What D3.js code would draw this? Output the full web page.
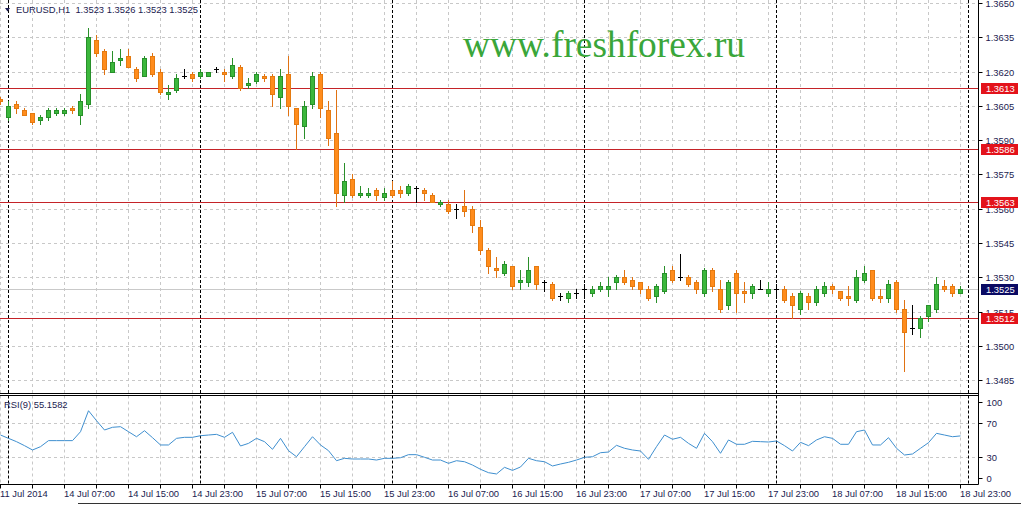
<!DOCTYPE html>
<html><head><meta charset="utf-8">
<script src="https://cdn.jsdelivr.net/npm/d3@7"></script>
<style>
html,body{margin:0;padding:0;background:#fff;}
svg{display:block;font-family:"Liberation Sans",Arial,sans-serif;}
</style></head><body>
<svg id="c" width="1021" height="505"></svg>
<script>
// ---------- DATA ----------
const open  = [1.3608,1.3600,1.3606,1.3603,1.3602,1.3599,1.3600,1.3602,1.3602,1.3604,
1.3601,1.3606,1.3634,1.3629,1.3620,1.3625,1.3627,1.3621,1.3618,1.3627,
1.3620,1.3610,1.3612,1.3618,1.3619,1.3618,1.3618,1.3621,1.3620,1.3618,
1.3622,1.3614,1.3616,1.3618,1.3618,1.3609,1.3619,1.3604,1.3596,1.3606,
1.3619,1.3603,1.3593,1.3566,1.3573,1.3566,1.3566,1.3568,1.3565,1.3568,
1.3568,1.3567,1.3569,1.3568,1.3566,1.3562,1.3562,1.3560,1.3561,1.3560,
1.3552,1.3542,1.3534,1.3532,1.3535,1.3528,1.3528,1.3535,1.3528,1.3527,
1.3522,1.3521,1.3523,1.3525,1.3523,1.3525,1.3525,1.3528,1.3530,1.3529,
1.3528,1.3525,1.3522,1.3524,1.3533,1.3530,1.3530,1.3528,1.3523,1.3533,
1.3525,1.3518,1.3532,1.3524,1.3523,1.3525,1.3523,1.3525,1.3525,1.3522,
1.3516,1.3522,1.3519,1.3523,1.3526,1.3524,1.3522,1.3520,1.3529,1.3533,
1.3522,1.3521,1.3528,1.3516,1.3508,1.3508,1.3513,1.3516,1.3526,1.3526,
1.3523];
const high  = [1.3609,1.3607,1.3607,1.3604,1.3602,1.3601,1.3604,1.3604,1.3604,1.3605,
1.3610,1.3639,1.3636,1.3630,1.3629,1.3630,1.3630,1.3622,1.3627,1.3628,
1.3621,1.3614,1.3619,1.3621,1.3620,1.3621,1.3620,1.3622,1.3621,1.3626,
1.3623,1.3617,1.3620,1.3619,1.3619,1.3621,1.3627,1.3604,1.3607,1.3620,
1.3620,1.3607,1.3612,1.3580,1.3575,1.3570,1.3569,1.3569,1.3569,1.3572,
1.3570,1.3571,1.3570,1.3569,1.3567,1.3564,1.3564,1.3562,1.3568,1.3561,
1.3555,1.3543,1.3539,1.3537,1.3535,1.3533,1.3539,1.3535,1.3529,1.3528,
1.3523,1.3524,1.3525,1.3527,1.3526,1.3528,1.3530,1.3531,1.3533,1.3530,
1.3528,1.3526,1.3527,1.3535,1.3535,1.3540,1.3531,1.3529,1.3534,1.3534,
1.3529,1.3529,1.3533,1.3528,1.3527,1.3529,1.3528,1.3527,1.3526,1.3523,
1.3524,1.3523,1.3526,1.3528,1.3527,1.3524,1.3526,1.3533,1.3535,1.3533,
1.3525,1.3529,1.3529,1.3520,1.3518,1.3513,1.3518,1.3530,1.3529,1.3527,
1.3526];
const low   = [1.3606,1.3599,1.3602,1.3601,1.3597,1.3597,1.3599,1.3601,1.3601,1.3602,
1.3597,1.3604,1.3627,1.3619,1.3620,1.3623,1.3622,1.3616,1.3618,1.3618,
1.3610,1.3608,1.3611,1.3617,1.3616,1.3617,1.3618,1.3620,1.3616,1.3617,
1.3612,1.3613,1.3615,1.3616,1.3605,1.3604,1.3601,1.3586,1.3591,1.3604,
1.3600,1.3588,1.3561,1.3563,1.3565,1.3565,1.3565,1.3564,1.3564,1.3565,
1.3565,1.3566,1.3563,1.3564,1.3563,1.3561,1.3558,1.3556,1.3557,1.3550,
1.3540,1.3532,1.3530,1.3531,1.3525,1.3525,1.3526,1.3525,1.3524,1.3520,
1.3520,1.3519,1.3521,1.3521,1.3522,1.3524,1.3522,1.3525,1.3527,1.3525,
1.3523,1.3520,1.3519,1.3523,1.3528,1.3529,1.3526,1.3523,1.3522,1.3524,
1.3515,1.3516,1.3515,1.3519,1.3521,1.3525,1.3522,1.3521,1.3519,1.3512,
1.3514,1.3516,1.3518,1.3522,1.3523,1.3520,1.3518,1.3519,1.3528,1.3520,
1.3519,1.3519,1.3515,1.3489,1.3505,1.3504,1.3511,1.3515,1.3524,1.3522,
1.3523];
const close = [1.3607,1.3605,1.3604,1.3601,1.3598,1.3600,1.3603,1.3603,1.3603,1.3603,
1.3607,1.3635,1.3628,1.3621,1.3624,1.3626,1.3622,1.3617,1.3626,1.3619,
1.3611,1.3611,1.3617,1.3618,1.3617,1.3620,1.3620,1.3621,1.3619,1.3623,
1.3613,1.3615,1.3619,1.3617,1.3610,1.3618,1.3605,1.3597,1.3605,1.3618,
1.3604,1.3591,1.3567,1.3572,1.3566,1.3567,1.3567,1.3566,1.3567,1.3566,
1.3567,1.3570,1.3569,1.3567,1.3563,1.3563,1.3559,1.3560,1.3559,1.3553,
1.3542,1.3535,1.3533,1.3536,1.3526,1.3529,1.3533,1.3527,1.3528,1.3521,
1.3522,1.3523,1.3523,1.3525,1.3525,1.3526,1.3526,1.3530,1.3528,1.3526,
1.3525,1.3521,1.3526,1.3532,1.3529,1.3530,1.3527,1.3525,1.3533,1.3526,
1.3516,1.3528,1.3523,1.3523,1.3526,1.3525,1.3525,1.3525,1.3520,1.3518,
1.3523,1.3519,1.3525,1.3526,1.3525,1.3521,1.3521,1.3530,1.3532,1.3521,
1.3521,1.3527,1.3516,1.3506,1.3508,1.3512,1.3518,1.3527,1.3525,1.3523,
1.3525];
const rsi = [56.2,52.3,48.4,43.7,38.6,42.5,49.6,49.6,49.6,49.6,
60.1,84.8,73.1,62.1,65.3,66.0,60.1,54.2,61.3,53.1,
44.5,44.5,52.3,53.5,53.5,55.4,56.2,57.0,53.5,59.4,
43.3,46.4,52.3,48.4,39.4,52.3,37.8,30.7,42.5,54.2,
44.5,37.8,26.0,28.8,28.0,28.0,28.0,26.8,28.8,28.8,
29.5,33.1,33.1,30.0,26.8,26.8,22.9,26.0,24.8,20.9,
15.9,11.9,10.4,18.2,14.6,18.6,28.8,26.0,24.8,19.8,
22.1,24.1,26.8,30.0,30.7,35.4,36.2,44.1,40.6,38.6,
37.4,27.6,42.5,56.2,51.2,53.5,46.4,40.6,58.2,48.4,
34.7,50.4,45.3,45.3,48.8,48.4,48.0,49.2,43.7,37.4,
47.6,43.7,50.4,54.2,52.3,45.3,45.3,60.1,62.1,44.5,
44.5,53.1,40.6,32.7,33.9,40.6,47.2,58.2,56.2,54.2,
55.1582];
const levels = [1.3613,1.3586,1.3563,1.3512];
const bid = 1.3525;
const priceTicks = [1.3650,1.3635,1.3620,1.3605,1.3590,1.3575,1.3560,1.3545,1.3530,1.3515,1.3500,1.3485];
const rsiTicks = [100,70,30,0];
const rsiGrid = [70,30];
const timeLabels = ["11 Jul 2014","14 Jul 07:00","14 Jul 15:00","14 Jul 23:00","15 Jul 07:00","15 Jul 15:00","15 Jul 23:00","16 Jul 07:00","16 Jul 15:00","16 Jul 23:00","17 Jul 07:00","17 Jul 15:00","17 Jul 23:00","18 Jul 07:00","18 Jul 15:00","18 Jul 23:00"];
const dayStarts = [1,25,49,73,97,121];
const title = "EURUSD,H1  1.3523 1.3526 1.3523 1.3525";
const rsiTitle = "RSI(9) 55.1582";
const watermark = "www.freshforex.ru";

// ---------- LAYOUT ----------
const svg = d3.select("#c");
const W = 1021, right = 978.5;
const mainTop = 0, mainBot = 393.5, rsiTop = 395.5, rsiBot = 484.5;
const txt = "#1b1b50";
const FS = "9.4px";

const x = d3.scaleLinear().domain([0,120]).range([0,960]);
const y = d3.scaleLinear().domain([1.3485,1.3650]).range([380.1,3]);
const yr = d3.scaleLinear().domain([0,100]).range([482.8,397.8]);
const px = v => Math.round(v) + 0.5;

svg.append("defs").call(d=>{
  d.append("clipPath").attr("id","cm").append("rect").attr("x",0).attr("y",0).attr("width",right).attr("height",mainBot);
  d.append("clipPath").attr("id","cr").append("rect").attr("x",0).attr("y",rsiTop+0.5).attr("width",right).attr("height",rsiBot-rsiTop-1);
});

const gm = svg.append("g").attr("clip-path","url(#cm)");
const gr = svg.append("g").attr("clip-path","url(#cr)");

const idx = d3.range(open.length);
const gridIdx = d3.range(0,121,4);

// vertical grid (gray dashed)
[ [gm,mainTop,mainBot], [gr,rsiTop,rsiBot] ].forEach(([g,t,b])=>{
  g.selectAll(null).data(gridIdx).join("line")
    .attr("x1",d=>px(x(d))).attr("x2",d=>px(x(d))).attr("y1",t).attr("y2",b)
    .attr("stroke","#c8c8c8").attr("stroke-dasharray","3,3");
});
// horizontal price grid
gm.selectAll(null).data(priceTicks).join("line")
  .attr("x1",0).attr("x2",right).attr("y1",d=>px(y(d))).attr("y2",d=>px(y(d)))
  .attr("stroke","#c8c8c8").attr("stroke-dasharray","3,3");
gr.selectAll(null).data(rsiGrid).join("line")
  .attr("x1",0).attr("x2",right).attr("y1",d=>px(yr(d))).attr("y2",d=>px(yr(d)))
  .attr("stroke","#c8c8c8").attr("stroke-dasharray","3,3");
// day separators
[ [gm,mainTop,mainBot], [gr,rsiTop,rsiBot] ].forEach(([g,t,b])=>{
  g.selectAll(null).data(dayStarts).join("line")
    .attr("x1",d=>px(x(d))).attr("x2",d=>px(x(d))).attr("y1",t).attr("y2",b)
    .attr("stroke","#000").attr("stroke-dasharray","3,2");
});

// bid line
gm.append("line").attr("x1",0).attr("x2",right).attr("y1",px(y(bid))).attr("y2",px(y(bid)))
  .attr("stroke","#c9c9c9");
// level lines
gm.selectAll(null).data(levels).join("line")
  .attr("x1",0).attr("x2",right).attr("y1",d=>px(y(d))).attr("y2",d=>px(y(d)))
  .attr("stroke","#c42328").attr("stroke-width",1);

// watermark
svg.append("text").attr("x",463).attr("y",57).text(watermark)
  .attr("font-family","'Liberation Serif','Times New Roman',serif").attr("font-size","37.4px")
  .attr("fill","#3aa63a");

// candles
const col = i => close[i] > open[i] ? "up" : (close[i] < open[i] ? "dn" : "doji");
const wickCol = {up:"#2a8f2a", dn:"#e07212", doji:"#000"};
const edgeCol = {up:"#27902a", dn:"#e47a10"};
const fillCol = {up:"#3cb73c", dn:"#ff8c1c"};
const cg = gm.selectAll("g.c").data(idx).join("g").attr("class","c");
cg.append("line")
  .attr("x1",i=>px(x(i))).attr("x2",i=>px(x(i)))
  .attr("y1",i=>Math.round(y(high[i]))).attr("y2",i=>Math.round(y(low[i]))+1)
  .attr("stroke",i=>wickCol[col(i)]);
cg.filter(i=>col(i)==="doji").append("line")
  .attr("x1",i=>Math.round(x(i))-2).attr("x2",i=>Math.round(x(i))+3)
  .attr("y1",i=>px(y(open[i]))).attr("y2",i=>px(y(open[i])))
  .attr("stroke","#000");
const bodies = cg.filter(i=>col(i)!=="doji");
bodies.append("rect")
  .attr("x",i=>Math.round(x(i))-2).attr("width",5)
  .attr("y",i=>Math.round(y(Math.max(open[i],close[i]))))
  .attr("height",i=>Math.max(3,Math.round(y(Math.min(open[i],close[i])))-Math.round(y(Math.max(open[i],close[i])))+1))
  .attr("fill",i=>edgeCol[col(i)]);
bodies.append("rect")
  .attr("x",i=>Math.round(x(i))-1).attr("width",3)
  .attr("y",i=>Math.round(y(Math.max(open[i],close[i])))+1)
  .attr("height",i=>Math.max(1,Math.round(y(Math.min(open[i],close[i])))-Math.round(y(Math.max(open[i],close[i])))-1))
  .attr("fill",i=>fillCol[col(i)]);

// RSI line
gr.append("path").datum(idx)
  .attr("d",d3.line().x(i=>x(i)+0.5).y(i=>yr(rsi[i])))
  .attr("fill","none").attr("stroke","#3f8fcf").attr("stroke-width",1);

// borders
const bl = (x1,y1,x2,y2)=>svg.append("line").attr("x1",x1).attr("y1",y1).attr("x2",x2).attr("y2",y2).attr("stroke","#000");
bl(0,mainBot,right,mainBot);
bl(0,rsiTop,right,rsiTop);
bl(0,rsiBot,right,rsiBot);
bl(right,0,right,rsiBot);
svg.append("line").attr("x1",78).attr("x2",W).attr("y1",503.5).attr("y2",503.5).attr("stroke","#333");

// price axis
const pa = svg.append("g").attr("transform",`translate(${right},0)`)
  .call(d3.axisRight(y).tickValues(priceTicks).tickSize(4).tickPadding(3).tickFormat(d3.format(".4f")));
pa.select(".domain").remove();
pa.selectAll("line").attr("stroke","#000");
pa.selectAll("text").attr("font-size",FS).attr("fill",txt).attr("font-family","'Liberation Sans',Arial,sans-serif");
pa.selectAll(".tick").attr("transform",d=>`translate(0,${px(y(d))})`);

// RSI axis
const ra = svg.append("g").attr("transform",`translate(${right},0)`);
ra.selectAll(null).data(rsiTicks).join("g")
  .attr("transform",d=>`translate(0,${Math.round(Math.min(478,Math.max(402,yr(d))))+0.5})`)
  .call(g=>{
    g.append("line").attr("x2",4).attr("stroke","#000");
    g.append("text").attr("x",8).attr("dy","0.32em").text(d=>d)
      .attr("font-size",FS).attr("fill",txt);
  });

// level labels
const lab = (v,bg)=>{
  const yy = Math.round(y(v));
  svg.append("rect").attr("x",981).attr("y",yy-5).attr("width",37).attr("height",11).attr("fill",bg);
  svg.append("text").attr("x",986).attr("y",yy+0.5).attr("dy","0.34em").text(d3.format(".4f")(v))
    .attr("font-size",FS).attr("fill","#fff");
};
levels.forEach(v=>lab(v,"#e3131b"));
lab(bid,"#0a0a64");

// time axis
const ta = svg.append("g");
ta.selectAll(null).data(gridIdx).join("line")
  .attr("x1",d=>px(x(d))).attr("x2",d=>px(x(d))).attr("y1",rsiBot).attr("y2",rsiBot+4).attr("stroke","#000");
ta.selectAll(null).data(timeLabels).join("text")
  .attr("x",(d,i)=>x(i*8)).attr("y",497).text(d=>d)
  .attr("font-size",FS).attr("fill",txt);

// titles
svg.append("path").attr("d","M5,8 L10,8 L7.5,11.5 Z").attr("fill",txt);
svg.append("text").attr("x",16).attr("y",12.5).text(title).attr("font-size",FS).attr("fill",txt).style("white-space","pre");
svg.append("text").attr("x",4).attr("y",408).text(rsiTitle).attr("font-size",FS).attr("fill",txt);
</script>
</body></html>
